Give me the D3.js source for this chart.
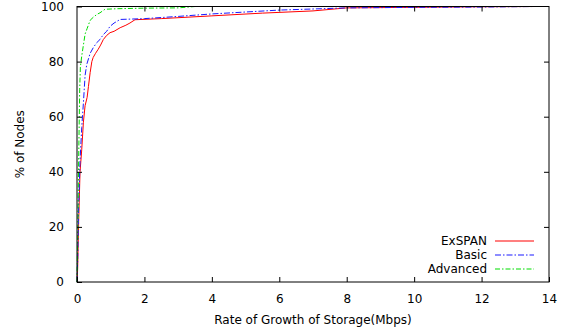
<!doctype html>
<html>
<head>
<style>
  body { margin: 0; background: #fff; }
  text { font-family: "DejaVu Sans", sans-serif; font-size: 12px; fill: #000; }
</style>
<script src="https://d3js.org/d3.v7.min.js"></script>
</head>
<body>
<svg width="568" height="333"></svg>
<script>
// data
var xTicks = [0, 2, 4, 6, 8, 10, 12, 14];
var yTicks = [0, 20, 40, 60, 80, 100];

var exspanX = [0, 0.02, 0.05, 0.09, 0.14, 0.19, 0.24, 0.3, 0.34, 0.39, 0.44, 0.48, 0.55, 0.63, 0.7, 0.78, 0.88, 0.98, 1.1, 1.28, 1.45, 1.57, 1.72, 2.5, 4.0, 5.5, 7.0, 8.0, 10, 12, 13.6];
var exspanY = [0, 5, 22, 40, 48, 58, 64, 67, 71, 76, 80, 81.5, 83, 84.5, 86, 88, 89.5, 90.5, 91, 92.3, 93.2, 94, 95.2, 95.6, 96.6, 97.6, 98.4, 99.5, 99.7, 99.9, 100];

var basicX = [0, 0.02, 0.05, 0.09, 0.14, 0.19, 0.24, 0.29, 0.34, 0.39, 0.48, 0.58, 0.68, 0.78, 0.88, 0.98, 1.1, 1.28, 2, 3, 4, 5, 6, 7, 8, 10, 12, 13.6];
var basicY = [0, 8, 28, 44, 56, 65, 75, 79, 81, 83, 85, 86.8, 88, 89.8, 91, 92.8, 94, 95.3, 95.6, 96.4, 97.3, 98.0, 98.7, 99.1, 99.5, 99.7, 99.8, 100];

var advX = [0, 0.02, 0.05, 0.08, 0.1, 0.14, 0.19, 0.24, 0.3, 0.39, 0.5, 0.6, 0.68, 0.83, 1.2, 2, 3, 3.5, 14];
var advY = [0, 15, 45, 70, 78, 82, 86, 90, 92, 95, 96.3, 97.2, 97.7, 99, 99.2, 99.4, 99.5, 100, 100];

var series = [
  { name: "ExSPAN", xs: exspanX, ys: exspanY, color: "#ff0000", dash: null },
  { name: "Basic", xs: basicX, ys: basicY, color: "#1a1aff", dash: "6,2,1.5,2" },
  { name: "Advanced", xs: advX, ys: advY, color: "#00dd00", dash: "5,2,1.5,2" }
];

var svg = d3.select("svg");
var mLeft = 77, mRight = 549, mTop = 6.5, mBottom = 282;

var x = d3.scaleLinear().domain([0, 14]).range([mLeft, mRight]);
var y = d3.scaleLinear().domain([0, 100]).range([mBottom, mTop]);

// lines
var line = d3.line();
series.forEach(function(s) {
  var pts = s.xs.map(function(v, i) { return [x(v), y(s.ys[i])]; });
  svg.append("path")
    .attr("d", line(pts))
    .attr("fill", "none")
    .attr("stroke", s.color)
    .attr("stroke-width", 1)
    .attr("stroke-dasharray", s.dash);
});

// axes (ticks inward, mirrored)
var tl = 5;
svg.append("g").attr("transform", "translate(0," + mBottom + ")")
  .call(d3.axisBottom(x).tickValues(xTicks).tickSize(-tl).tickPadding(tl + 7))
  .call(function(g) { g.select(".domain").remove(); });
svg.append("g").attr("transform", "translate(0," + mTop + ")")
  .call(d3.axisTop(x).tickValues(xTicks.slice(1, -1)).tickSize(-tl).tickFormat(""))
  .call(function(g) { g.select(".domain").remove(); });
svg.append("g").attr("transform", "translate(" + mLeft + ",0)")
  .call(d3.axisLeft(y).tickValues(yTicks).tickSize(-tl).tickPadding(tl + 8))
  .call(function(g) { g.select(".domain").remove(); });
svg.append("g").attr("transform", "translate(" + mRight + ",0)")
  .call(d3.axisRight(y).tickValues(yTicks.slice(1, -1)).tickSize(-tl).tickFormat(""))
  .call(function(g) { g.select(".domain").remove(); });

svg.selectAll(".tick text").style("font-size", "12px").style("font-family", "DejaVu Sans, sans-serif");

// border
svg.append("rect")
  .attr("x", mLeft).attr("y", mTop)
  .attr("width", mRight - mLeft).attr("height", mBottom - mTop)
  .attr("fill", "none").attr("stroke", "#000").attr("stroke-width", 1);

// axis titles
svg.append("text")
  .attr("x", (mLeft + mRight) / 2).attr("y", 324)
  .attr("text-anchor", "middle")
  .text("Rate of Growth of Storage(Mbps)");
svg.append("text")
  .attr("transform", "translate(24," + ((mTop + mBottom) / 2) + ") rotate(-90)")
  .attr("text-anchor", "middle")
  .text("% of Nodes");

// legend
series.forEach(function(s, i) {
  var ly = 241 + i * 14;
  svg.append("text")
    .attr("x", 487).attr("y", ly + 4)
    .attr("text-anchor", "end")
    .text(s.name);
  svg.append("line")
    .attr("x1", 495).attr("x2", 534)
    .attr("y1", ly).attr("y2", ly)
    .attr("stroke", s.color)
    .attr("stroke-width", 1.2)
    .attr("stroke-dasharray", s.dash);
});
</script>
</body>
</html>
